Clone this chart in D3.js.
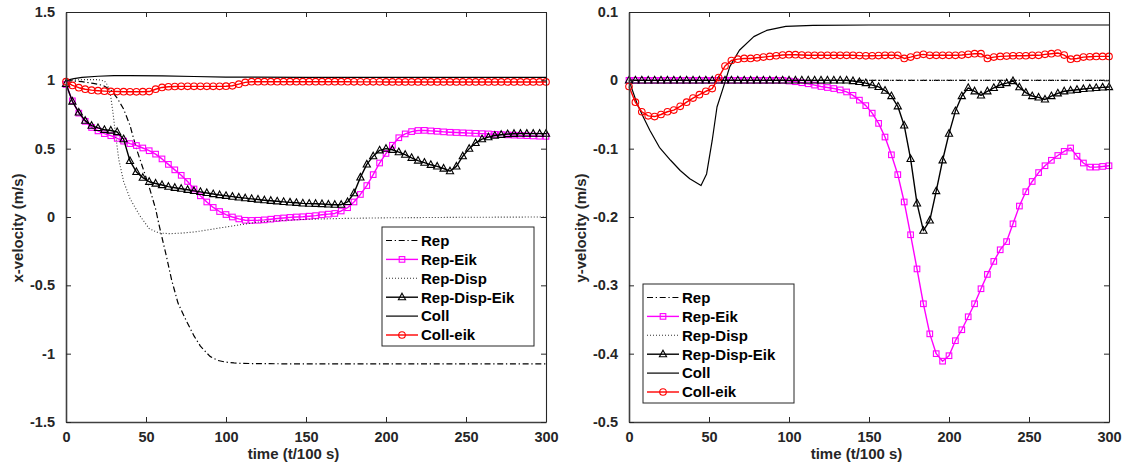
<!DOCTYPE html>
<html><head><meta charset="utf-8">
<script src="https://cdn.jsdelivr.net/npm/d3@7"></script>
<style>body{margin:0;background:#fff}svg{display:block}</style>
</head><body><svg id="c" width="1124" height="468"></svg>
<script>
// ---------- DATA ----------
const seriesNames = ["Rep","Rep-Eik","Rep-Disp","Rep-Disp-Eik","Coll","Coll-eik"];
const xTicks = [0,50,100,150,200,250,300];
const yTicksLeft = [-1.5,-1,-0.5,0,0.5,1,1.5];
const yTicksRight = [-0.5,-0.4,-0.3,-0.2,-0.1,0,0.1];
const xLabel = "time (t/100 s)";
const yLabelLeft = "x-velocity (m/s)";
const yLabelRight = "y-velocity (m/s)";

// sample times of the marked series
const tGrid = [0,4,8,12,16,20,24,28,32,36,40,44,48,52,56,60,64,68,72,76,80,84,88,92,96,100,
  104,108,112,116,120,124,128,132,136,140,144,148,152,156,160,164,168,172,176,180,184,188,192,196,
  200,204,208,212,216,220,224,228,232,236,240,244,248,252,256,260,264,268,272,276,280,284,288,292,296,300];

// ---- x-velocity (left panel)
const xRepT = [0,10,17,23,28,32,36,40,44,48,52,56,58,60,63,66,70,75,80,84,90,95,100,105,110,120,150,200,250,300];
const xRepV = [1.0,0.99,0.978,0.963,0.93,0.87,0.79,0.67,0.5,0.36,0.22,0.06,-0.05,-0.15,-0.3,-0.46,-0.63,-0.755,-0.87,-0.945,-1.02,-1.05,-1.062,-1.068,-1.071,-1.073,-1.075,-1.075,-1.075,-1.075];
const xRepEikV = [0.97,0.85,0.76,0.70,0.655,0.63,0.61,0.595,0.575,0.555,
  0.537,0.523,0.505,0.485,0.46,0.425,0.385,0.345,0.305,0.26,
  0.205,0.155,0.11,0.07,0.04,0.018,0.0,-0.014,-0.024,-0.025,
  -0.024,-0.021,-0.016,-0.011,-0.007,-0.003,0.0,0.002,0.006,0.01,
  0.016,0.021,0.026,0.044,0.068,0.11,0.165,0.23,0.31,0.395,
  0.465,0.525,0.58,0.608,0.625,0.633,0.634,0.63,0.627,0.623,
  0.62,0.618,0.616,0.614,0.612,0.61,0.608,0.605,0.603,0.601,
  0.599,0.597,0.595,0.593,0.591,0.59];
const xRepDispT = [0,10,20,24,26,28,29.5,31,33,36,40,46,52,58,65,72,80,90,100,110,120,135,150,175,200,250,300];
const xRepDispV = [1.0,1.005,1.005,0.995,0.965,0.88,0.75,0.6,0.42,0.26,0.135,0.012,-0.085,-0.117,-0.122,-0.118,-0.11,-0.092,-0.073,-0.055,-0.037,-0.025,-0.017,-0.01,-0.006,-0.002,0.0];
const xRepDispEikV = [0.975,0.845,0.765,0.705,0.668,0.652,0.638,0.633,0.622,0.57,
  0.41,0.33,0.288,0.258,0.245,0.234,0.222,0.214,0.207,0.199,
  0.191,0.184,0.176,0.168,0.161,0.155,0.149,0.143,0.138,0.133,
  0.128,0.123,0.119,0.115,0.111,0.107,0.104,0.1,0.098,0.097,
  0.095,0.092,0.09,0.09,0.11,0.175,0.29,0.385,0.445,0.488,
  0.5,0.492,0.475,0.456,0.433,0.413,0.398,0.382,0.37,0.355,
  0.335,0.37,0.445,0.5,0.542,0.57,0.584,0.596,0.602,0.607,
  0.609,0.61,0.61,0.61,0.61,0.61];
const xCollT = [0,5,10,20,30,40,60,80,100,150,200,250,300];
const xCollV = [1.0,1.012,1.022,1.03,1.034,1.035,1.033,1.028,1.024,1.022,1.022,1.022,1.022];
const xCollEikV = [0.99,0.963,0.946,0.935,0.928,0.924,0.921,0.919,0.918,0.917,
  0.916,0.916,0.917,0.918,0.935,0.948,0.953,0.955,0.956,0.956,
  0.956,0.956,0.956,0.956,0.956,0.957,0.96,0.972,0.985,0.99,
  0.99,0.99,0.99,0.99,0.99,0.99,0.99,0.99,0.99,0.99,
  0.99,0.99,0.99,0.99,0.99,0.989,0.989,0.989,0.989,0.989,
  0.988,0.988,0.988,0.988,0.988,0.988,0.988,0.988,0.988,0.988,
  0.988,0.988,0.988,0.988,0.988,0.988,0.988,0.988,0.988,0.988,
  0.988,0.988,0.988,0.988,0.988,0.988];

// ---- y-velocity (right panel)
const yRepT = [0,100,200,300];
const yRepV = [0,0,0,0];
const yRepEikV = [0,0,0,0,0,0,0,0,0,0,
  0,0,0,0,0,0,0,0,0,0,
  0,0,0,0,0,-0.001,-0.002,-0.0035,-0.005,-0.007,
  -0.009,-0.0105,-0.012,-0.014,-0.017,-0.022,-0.029,-0.037,-0.048,-0.063,
  -0.083,-0.109,-0.138,-0.178,-0.226,-0.276,-0.327,-0.371,-0.4,-0.411,
  -0.403,-0.381,-0.365,-0.346,-0.327,-0.305,-0.284,-0.265,-0.248,-0.236,
  -0.21,-0.184,-0.163,-0.148,-0.135,-0.125,-0.117,-0.11,-0.104,-0.099,
  -0.111,-0.121,-0.127,-0.127,-0.126,-0.125];
const yRepDispT = [0,100,200,300];
const yRepDispV = [0,0,0,0];
const yRepDispEikV = [0,0,0,0,0,0,0,0,0,0,
  0,0,0,0,0,0,0,0,0,0,
  0,0,0,0,0,0,0,0,0,0,
  0,0,0,0,0,-0.001,-0.0024,-0.004,-0.007,-0.0095,
  -0.015,-0.023,-0.038,-0.066,-0.115,-0.18,-0.22,-0.205,-0.162,-0.117,
  -0.078,-0.045,-0.023,-0.011,-0.016,-0.022,-0.016,-0.011,-0.0065,-0.004,
  -0.001,-0.01,-0.018,-0.023,-0.025,-0.028,-0.023,-0.019,-0.016,-0.0148,
  -0.0138,-0.0126,-0.0118,-0.011,-0.0103,-0.0098];
const yCollT = [0,5,9,13,19,26,32,38,45,48.5,52,55,59,63,69,78,86,98,115,150,200,250,300];
const yCollV = [0,-0.034,-0.054,-0.073,-0.098,-0.117,-0.132,-0.144,-0.154,-0.137,-0.088,-0.039,-0.01,0.02,0.044,0.064,0.073,0.079,0.0805,0.081,0.081,0.081,0.081];
const yCollEikV = [-0.009,-0.032,-0.046,-0.052,-0.053,-0.05,-0.046,-0.0435,-0.038,-0.032,
  -0.026,-0.021,-0.016,-0.012,0.004,0.021,0.029,0.031,0.032,0.032,
  0.033,0.034,0.035,0.036,0.037,0.0375,0.0375,0.037,0.0366,0.0366,
  0.0366,0.0366,0.0366,0.0366,0.0366,0.0366,0.0362,0.0358,0.036,0.0362,
  0.0366,0.0366,0.0366,0.032,0.034,0.0366,0.038,0.0366,0.0366,0.0366,
  0.0366,0.0366,0.037,0.038,0.039,0.039,0.032,0.034,0.035,0.0355,
  0.036,0.036,0.036,0.0366,0.0366,0.038,0.039,0.04,0.037,0.031,
  0.032,0.034,0.0345,0.035,0.035,0.035];

// ---------- STYLES ----------
const styles = {
  "Rep":          {color:"#000000", width:1.2, dash:"6,2.7,1.3,2.7", marker:null},
  "Rep-Eik":      {color:"#ff00ff", width:1.4, dash:null, marker:"square"},
  "Rep-Disp":     {color:"#333333", width:1.1, dash:"1,2", marker:null},
  "Rep-Disp-Eik": {color:"#000000", width:1.4, dash:null, marker:"triangle"},
  "Coll":         {color:"#000000", width:1.2, dash:null, marker:null},
  "Coll-eik":     {color:"#ff0000", width:1.4, dash:null, marker:"circle"}
};
const FONT = "'Liberation Sans', Arial, Helvetica, sans-serif";
const TXT = "#262626";

const zip = (t, v) => t.map((d, i) => [d, v[i]]);

const panels = [
  {
    xr:[66,546], yr:[422,12], ydom:[-1.5,1.5], yTicks:yTicksLeft, yLabel:yLabelLeft,
    legend:{x:382, y:227, w:152, h:119},
    series:{
      "Rep": zip(xRepT, xRepV),
      "Rep-Eik": zip(tGrid, xRepEikV),
      "Rep-Disp": zip(xRepDispT, xRepDispV),
      "Rep-Disp-Eik": zip(tGrid, xRepDispEikV),
      "Coll": zip(xCollT, xCollV),
      "Coll-eik": zip(tGrid, xCollEikV)
    }
  },
  {
    xr:[629,1109], yr:[422,12], ydom:[-0.5,0.1], yTicks:yTicksRight, yLabel:yLabelRight,
    legend:{x:643, y:284, w:151, h:119},
    series:{
      "Rep": zip(yRepT, yRepV),
      "Rep-Eik": zip(tGrid, yRepEikV),
      "Rep-Disp": zip(yRepDispT, yRepDispV),
      "Rep-Disp-Eik": zip(tGrid, yRepDispEikV),
      "Coll": zip(yCollT, yCollV),
      "Coll-eik": zip(tGrid, yCollEikV)
    }
  }
];

const svg = d3.select("#c");
svg.append("rect").attr("width",1124).attr("height",468).attr("fill","#fff");

function drawMarker(g, type, cx, cy, color) {
  if (type === "square") {
    g.append("rect").attr("x",cx-2.8).attr("y",cy-2.8).attr("width",5.6).attr("height",5.6)
      .attr("fill","none").attr("stroke",color).attr("stroke-width",1.1);
  } else if (type === "circle") {
    g.append("circle").attr("cx",cx).attr("cy",cy).attr("r",3.3)
      .attr("fill","none").attr("stroke",color).attr("stroke-width",1.1);
  } else if (type === "triangle") {
    g.append("path").attr("d",`M${cx},${cy-4}L${cx+3.6},${cy+2.6}L${cx-3.6},${cy+2.6}Z`)
      .attr("fill","none").attr("stroke",color).attr("stroke-width",1.1);
  }
}

panels.forEach(p => {
  const x = d3.scaleLinear().domain([0,300]).range(p.xr);
  const y = d3.scaleLinear().domain(p.ydom).range(p.yr);
  const g = svg.append("g");

  // data
  const line = d3.line().x(d => x(d[0])).y(d => y(d[1]));
  seriesNames.forEach(name => {
    const st = styles[name];
    const data = p.series[name];
    const sg = g.append("g");
    sg.append("path").datum(data).attr("d", line).attr("fill","none")
      .attr("stroke", st.color).attr("stroke-width", st.width)
      .attr("stroke-dasharray", st.dash).attr("stroke-linejoin","round");
    if (st.marker) data.forEach(d => drawMarker(sg, st.marker, x(d[0]), y(d[1]), st.color));
  });

  // axes
  const fmt = d => String(d);
  const axB = g.append("g").attr("transform",`translate(0,${p.yr[0]})`)
    .call(d3.axisBottom(x).tickValues(xTicks).tickSizeInner(-5).tickSizeOuter(0).tickPadding(9.5).tickFormat(fmt));
  const axT = g.append("g").attr("transform",`translate(0,${p.yr[1]})`)
    .call(d3.axisTop(x).tickValues(xTicks).tickSizeInner(-5).tickSizeOuter(0).tickFormat(""));
  const axL = g.append("g").attr("transform",`translate(${p.xr[0]},0)`)
    .call(d3.axisLeft(y).tickValues(p.yTicks).tickSizeInner(-5).tickSizeOuter(0).tickPadding(11).tickFormat(fmt));
  const axR = g.append("g").attr("transform",`translate(${p.xr[1]},0)`)
    .call(d3.axisRight(y).tickValues(p.yTicks).tickSizeInner(-5).tickSizeOuter(0).tickFormat(""));
  [axB, axT, axL, axR].forEach(a => {
    a.selectAll(".tick line").attr("stroke", TXT).attr("stroke-width", 1);
    a.selectAll(".tick text").attr("fill", TXT).style("font-family", FONT)
      .style("font-size","14.5px").style("font-weight","bold");
    a.select(".domain").attr("stroke", TXT).attr("stroke-width", 1.1);
  });
  axB.select(".domain").attr("stroke","#404040").attr("stroke-width",1.6);
  axL.select(".domain").attr("stroke","#404040").attr("stroke-width",1.6);

  // axis labels
  const cx = (p.xr[0] + p.xr[1]) / 2 - 12.5;
  g.append("text").attr("x", cx).attr("y", 459).attr("text-anchor","middle")
    .attr("fill", TXT).style("font-family", FONT).style("font-size","15px").style("font-weight","bold")
    .text(xLabel);
  const lx = p.xr[0] - 43.5;
  g.append("text").attr("transform",`translate(${lx},228) rotate(-90)`).attr("text-anchor","middle")
    .attr("fill", TXT).style("font-family", FONT).style("font-size","15px").style("font-weight","bold")
    .text(p.yLabel);

  // legend
  const L = p.legend;
  const lg = g.append("g");
  lg.append("rect").attr("x",L.x).attr("y",L.y).attr("width",L.w).attr("height",L.h)
    .attr("fill","#fff").attr("stroke",TXT).attr("stroke-width",1);
  seriesNames.forEach((name, i) => {
    const st = styles[name];
    const cy = L.y + 13.5 + i * 18.9;
    lg.append("line").attr("x1",L.x+4).attr("x2",L.x+36).attr("y1",cy).attr("y2",cy)
      .attr("stroke",st.color).attr("stroke-width",st.width).attr("stroke-dasharray",st.dash);
    if (st.marker) drawMarker(lg, st.marker, L.x+20, cy, st.color);
    lg.append("text").attr("x",L.x+39).attr("y",cy+5.3).attr("fill","#000")
      .style("font-family",FONT).style("font-size","15px").style("font-weight","bold").text(name);
  });
});
</script></body></html>
